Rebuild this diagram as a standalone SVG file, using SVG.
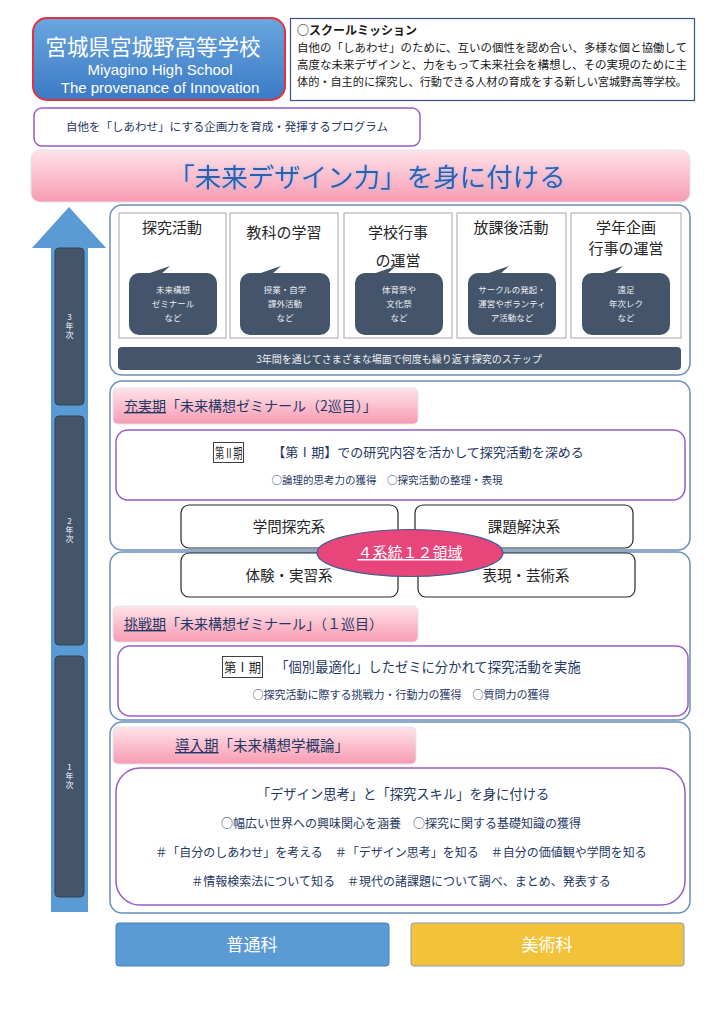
<svg xmlns="http://www.w3.org/2000/svg" width="724" height="1024" viewBox="0 0 724 1024">
<defs>
<linearGradient id="gBlue" x1="0" y1="0" x2="0" y2="1"><stop offset="0" stop-color="#6aa6de"/><stop offset="1" stop-color="#3b7ac6"/></linearGradient>
<linearGradient id="gPink" x1="0" y1="0" x2="0" y2="1"><stop offset="0" stop-color="#ffe3e9"/><stop offset="1" stop-color="#f79bb2"/></linearGradient>
<filter id="glow" x="-10%" y="-30%" width="120%" height="160%"><feGaussianBlur in="SourceAlpha" stdDeviation="1.6" result="b"/><feFlood flood-color="#9cc3ff"/><feComposite in2="b" operator="in" result="g"/><feMerge><feMergeNode in="g"/><feMergeNode in="SourceGraphic"/></feMerge></filter>
</defs>
<style>
.jp{font-family:"Noto Sans CJK JP","Noto Sans",sans-serif}
.sec{fill:#fff;stroke:#6a8fbb;stroke-width:1.5}
.pbox{fill:#fff;stroke:#9a5cc6;stroke-width:1.5}
.tab{fill:url(#gPink);stroke:#dfe3f2;stroke-width:1}
.tabt{font-family:"Noto Sans CJK JP",sans-serif;font-size:14px;fill:#1f3864}
.wbox{fill:#fff;stroke:#a6a6a6;stroke-width:1}
.bub{fill:#44546a}
.bt{font-family:"Noto Sans CJK JP",sans-serif;font-size:8.5px;fill:#eef1f5;text-anchor:middle}
.ttl{font-family:"Noto Sans CJK JP",sans-serif;font-size:15px;fill:#262626;text-anchor:middle}
.bar{fill:#44546a;stroke:#34404f;stroke-width:1}
.yt{font-family:"Noto Sans CJK JP",sans-serif;font-size:8px;fill:#fff;text-anchor:middle}
.txt{font-family:"Noto Sans CJK JP",sans-serif;fill:#1f3864;text-anchor:middle}
.cat{fill:#fff;stroke:#262626;stroke-width:1.2}
.catt{font-family:"Noto Sans CJK JP",sans-serif;font-size:14.5px;fill:#262626;text-anchor:middle}
.mis{font-family:"Noto Sans CJK JP",sans-serif;font-size:11.5px;fill:#1a1a1a}
</style>

<g id="header">
<rect x="33" y="18" width="252" height="82" rx="14" fill="url(#gBlue)" stroke="#e2323c" stroke-width="2"/>
<text x="153" y="55" class="jp" font-size="21.5" fill="#fff" text-anchor="middle">宮城県宮城野高等学校</text>
<text x="160" y="75" font-family="Liberation Sans,sans-serif" font-size="15" fill="#fff" text-anchor="middle">Miyagino High School</text>
<text x="160" y="93" font-family="Liberation Sans,sans-serif" font-size="15" fill="#fff" text-anchor="middle">The provenance of Innovation</text>
</g>

<g id="mission">
<rect x="290.5" y="18.5" width="404" height="82" fill="#fff" stroke="#3c4f94" stroke-width="1.2"/>
<text x="297" y="35" class="mis" style="font-size:12px;font-weight:bold">○スクールミッション</text>
<text x="297" y="52" class="mis" textLength="390" lengthAdjust="spacingAndGlyphs">自他の「しあわせ」のために、互いの個性を認め合い、多様な個と協働して</text>
<text x="297" y="69" class="mis" textLength="390" lengthAdjust="spacingAndGlyphs">高度な未来デザインと、力をもって未来社会を構想し、その実現のために主</text>
<text x="297" y="86" class="mis" textLength="390" lengthAdjust="spacingAndGlyphs">体的・自主的に探究し、行動できる人材の育成をする新しい宮城野高等学校。</text>
</g>

<g id="program">
<rect x="34" y="108" width="386" height="38" rx="8" fill="#fff" stroke="#9a5cc6" stroke-width="1.5"/>
<text x="227" y="131" class="txt" font-size="11.5">自他を「しあわせ」にする企画力を育成・発揮するプログラム</text>
</g>

<g id="banner">
<rect x="31" y="150" width="659" height="52" rx="9" fill="url(#gPink)" stroke="#dfe3f2" stroke-width="1"/>
<text x="367" y="187" class="jp" font-size="26.5" fill="#2d5ea8" text-anchor="middle" filter="url(#glow)">「未来デザイン力」を身に付ける</text>
</g>

<g id="timeline">
<polygon points="69,207 106,248 88,248 88,912 51,912 51,248 32,248" fill="#5b9bd5"/>
<rect x="55" y="248" width="29" height="157" rx="4" class="bar"/>
<text class="yt"><tspan x="69.5" y="320">3</tspan><tspan x="69.5" y="329">年</tspan><tspan x="69.5" y="338">次</tspan></text>
<rect x="55" y="416" width="29" height="229" rx="4" class="bar"/>
<text class="yt"><tspan x="69.5" y="524">2</tspan><tspan x="69.5" y="533">年</tspan><tspan x="69.5" y="542">次</tspan></text>
<rect x="55" y="656" width="29" height="241" rx="4" class="bar"/>
<text class="yt"><tspan x="69.5" y="770">1</tspan><tspan x="69.5" y="779">年</tspan><tspan x="69.5" y="788">次</tspan></text>
</g>

<g id="year3">
<rect x="110" y="205" width="580" height="170" rx="12" class="sec"/>
<rect x="119" y="213" width="107" height="125" class="wbox"/>
<rect x="230" y="213" width="108" height="125" class="wbox"/>
<rect x="344" y="213" width="108" height="125" class="wbox"/>
<rect x="457" y="213" width="109" height="125" class="wbox"/>
<rect x="571" y="213" width="110" height="125" class="wbox"/>
<text x="172" y="233" class="ttl">探究活動</text>
<text x="284" y="238" class="ttl">教科の学習</text>
<text x="398" y="238" class="ttl">学校行事</text>
<text x="398" y="266" class="ttl">の運営</text>
<text x="511" y="233" class="ttl">放課後活動</text>
<text x="626" y="233" class="ttl">学年企画</text>
<text x="626" y="254" class="ttl">行事の運営</text>

<g class="bub">
<rect x="129" y="273" width="88" height="62" rx="10"/><polygon points="144,275 170,266 160,275"/>
<rect x="240" y="273" width="90" height="62" rx="10"/><polygon points="255,275 281,266 271,275"/>
<rect x="355" y="273" width="88" height="62" rx="10"/><polygon points="370,275 396,266 386,275"/>
<rect x="468" y="273" width="88" height="62" rx="10"/><polygon points="483,275 509,266 499,275"/>
<rect x="582" y="273" width="88" height="62" rx="10"/><polygon points="597,275 623,266 613,275"/>
</g>
<text class="bt"><tspan x="173" y="293">未来構想</tspan><tspan x="173" y="307">ゼミナール</tspan><tspan x="173" y="321">など</tspan></text>
<text class="bt"><tspan x="285" y="293">授業・自学</tspan><tspan x="285" y="307">課外活動</tspan><tspan x="285" y="321">など</tspan></text>
<text class="bt"><tspan x="399" y="293">体育祭や</tspan><tspan x="399" y="307">文化祭</tspan><tspan x="399" y="321">など</tspan></text>
<text class="bt"><tspan x="512" y="293">サークルの発起・</tspan><tspan x="512" y="307">運営やボランティ</tspan><tspan x="512" y="321">ア活動など</tspan></text>
<text class="bt"><tspan x="626" y="293">遠足</tspan><tspan x="626" y="307">年次レク</tspan><tspan x="626" y="321">など</tspan></text>

<rect x="118" y="347" width="563" height="23" rx="4" fill="#44546a"/>
<text x="399" y="362.5" class="bt" style="font-size:10px">3年間を通じてさまざまな場面で何度も繰り返す探究のステップ</text>
</g>

<g id="year2">
<rect x="110" y="381" width="580" height="169" rx="12" class="sec"/>
<rect x="113" y="388" width="305" height="36" rx="5" class="tab"/>
<text x="124" y="411" class="tabt"><tspan text-decoration="underline">充実期</tspan>「未来構想ゼミナール（2巡目）」</text>
<rect x="116" y="430" width="569" height="70" rx="12" class="pbox"/>
<rect x="213.5" y="442.5" width="30" height="20" fill="none" stroke="#404040" stroke-width="1"/>
<text x="215" y="457.5" class="jp" font-size="13.5" fill="#262626" textLength="27.5" lengthAdjust="spacingAndGlyphs">第Ⅱ期</text>
<text x="428" y="457" class="txt" font-size="13">【第Ⅰ期】での研究内容を活かして探究活動を深める</text>
<text x="387" y="484" class="txt" font-size="10.5">○論理的思考力の獲得　○探究活動の整理・表現</text>
</g>

<g id="year1b">
<rect x="110" y="552" width="580" height="168" rx="12" class="sec"/>
<rect x="113" y="606" width="305" height="36" rx="5" class="tab"/>
<text x="124" y="629" class="tabt"><tspan text-decoration="underline">挑戦期</tspan>「未来構想ゼミナール」（１巡目）</text>
<rect x="118" y="646" width="570" height="70" rx="12" class="pbox"/>
<rect x="222.5" y="656.5" width="40" height="21" fill="none" stroke="#404040" stroke-width="1"/>
<text x="224" y="672" class="jp" font-size="13" fill="#262626" textLength="37" lengthAdjust="spacingAndGlyphs">第Ⅰ期</text>
<text x="428" y="672" class="txt" font-size="13.3">「個別最適化」したゼミに分かれて探究活動を実施</text>
<text x="401" y="699" class="txt" font-size="11">○探究活動に際する挑戦力・行動力の獲得　○質問力の獲得</text>
</g>

<g id="categories">
<rect x="181" y="505" width="217" height="43" rx="8" class="cat"/>
<text x="289" y="532" class="catt">学問探究系</text>
<rect x="415" y="505" width="218" height="43" rx="8" class="cat"/>
<text x="524" y="532" class="catt">課題解決系</text>
<rect x="181" y="553" width="217" height="44" rx="8" class="cat"/>
<text x="289" y="581" class="catt">体験・実習系</text>
<rect x="418" y="553" width="217" height="44" rx="8" class="cat"/>
<text x="526" y="581" class="catt">表現・芸術系</text>
</g>

<g id="systems">
<ellipse cx="410" cy="553" rx="93" ry="23.5" fill="#e8457b" stroke="#3e5c95" stroke-width="1.2"/>
<text x="410" y="558" class="jp" font-size="15" fill="#fff" text-anchor="middle" text-decoration="underline">４系統１２領域</text>
</g>

<g id="year1a">
<rect x="110" y="722" width="580" height="191" rx="12" class="sec"/>
<rect x="113" y="727" width="303" height="37" rx="5" class="tab"/>
<text x="175" y="751" class="tabt" style="font-size:14.5px"><tspan text-decoration="underline">導入期</tspan>「未来構想学概論」</text>
<rect x="116" y="768" width="569" height="137" rx="24" class="pbox"/>
<text x="403" y="799" class="txt" font-size="13.3">「デザイン思考」と「探究スキル」を身に付ける</text>
<text x="401" y="828" class="txt" font-size="12">○幅広い世界への興味関心を涵養　○探究に関する基礎知識の獲得</text>
<text x="401" y="857" class="txt" font-size="12">＃「自分のしあわせ」を考える　＃「デザイン思考」を知る　＃自分の価値観や学問を知る</text>
<text x="401" y="886" class="txt" font-size="12">＃情報検索法について知る　＃現代の諸課題について調べ、まとめ、発表する</text>
</g>

<g id="general">
<rect x="116" y="923" width="273" height="43" rx="3" fill="#5b9bd5" stroke="#4a7fb5" stroke-width="1"/>
<text x="252" y="951" class="jp" font-size="17" fill="#fff" text-anchor="middle">普通科</text>
</g>
<g id="art">
<rect x="411" y="923" width="273" height="43" rx="3" fill="#f2c23b" stroke="#8e9bb5" stroke-width="1"/>
<text x="547" y="951" class="jp" font-size="17" fill="#fff" text-anchor="middle">美術科</text>
</g>
</svg>
